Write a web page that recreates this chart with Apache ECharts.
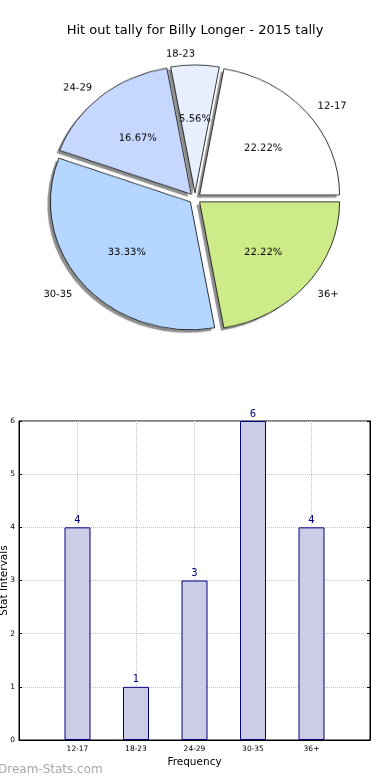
<!DOCTYPE html>
<html>
<head>
<meta charset="utf-8">
<script src="https://cdn.jsdelivr.net/npm/echarts@6/dist/echarts.min.js"></script>
<style>
  html, body { margin: 0; padding: 0; background: #fff; }
  #bar { position: absolute; left: 0; top: 0; width: 390px; height: 780px; }
  #pie { position: absolute; left: 0; top: 0; width: 390px; height: 430px;
         transform: scaleY(0.914); transform-origin: 0 0; }
</style>
</head>
<body>
<div id="bar"></div>
<div id="pie"></div>
<script>
// ---- data ----
var titleText = 'Hit out tally for Billy Longer - 2015 tally';
var categories = ['12-17', '18-23', '24-29', '30-35', '36+'];
var counts = [4, 1, 3, 6, 4];
var pieColors = ['#ffffff', '#e8f0ff', '#c6d8ff', '#b5d6ff', '#ceeb8a'];
var yTicks = [0, 1, 2, 3, 4, 5, 6];
var xAxisName = 'Frequency';
var yAxisName = 'Stat Intervals';
var watermark = 'Dream-Stats.com';

var FONT = 'DejaVu Sans';
var total = counts.reduce(function (a, b) { return a + b; }, 0);

// ---- pie ----
function pieItems(withColor) {
  return categories.map(function (c, i) {
    var d = { name: c, value: counts[i], selected: true };
    if (withColor) d.itemStyle = { color: pieColors[i] };
    return d;
  });
}

var WEDGE_CENTER = [195, 217];
var LABEL_CENTER = [195, 219.2];   // text baseline tweak (matplotlib centers text slightly lower)
var common = {
  type: 'pie', startAngle: 0.001, clockwise: false,
  selectedMode: 'multiple', selectedOffset: 6, avoidLabelOverlap: false,
  emphasis: { disabled: true }
};
var clear = { color: 'rgba(0,0,0,0)', borderWidth: 0 };

var pie = echarts.init(document.getElementById('pie'), null, { renderer: 'canvas' });
pie.setOption({
  animation: false,
  series: [
    // shadow layer
    Object.assign({}, common, {
      center: WEDGE_CENTER, radius: [0, 140], silent: true,
      itemStyle: { color: '#ffffff', borderWidth: 0,
        shadowColor: 'rgba(0,0,0,0.45)', shadowBlur: 1, shadowOffsetX: -3, shadowOffsetY: 3 },
      select: { itemStyle: { color: '#ffffff', borderWidth: 0 } },
      label: { show: false }, labelLine: { show: false },
      data: pieItems(false)
    }),
    // wedges
    Object.assign({}, common, {
      center: WEDGE_CENTER, radius: [0, 140],
      itemStyle: { borderColor: '#000', borderWidth: 0.8 },
      select: { itemStyle: { borderColor: '#000', borderWidth: 0.8 } },
      label: { show: false }, labelLine: { show: false },
      data: pieItems(true)
    }),
    // category labels
    Object.assign({}, common, {
      center: LABEL_CENTER, radius: [0, 140], silent: true,
      itemStyle: clear, select: { itemStyle: clear },
      label: {
        show: true, position: 'outside', formatter: '{b}',
        fontFamily: FONT, fontSize: 10, color: '#000', distanceToLabelLine: 0
      },
      labelLine: { show: false, length: 14, length2: 0 },
      data: pieItems(false)
    }),
    // percentage labels
    Object.assign({}, common, {
      center: LABEL_CENTER, radius: [20, 140], silent: true,
      itemStyle: clear, select: { itemStyle: clear },
      label: {
        show: true, position: 'inside',
        formatter: function (p) { return (p.value / total * 100).toFixed(2) + '%'; },
        fontFamily: FONT, fontSize: 10, color: '#000'
      },
      labelLine: { show: false },
      data: pieItems(false)
    })
  ]
});

// ---- bar ----
var xData = [''].concat(categories, ['']);
var barData = ['-'].concat(counts, ['-']);

var bar = echarts.init(document.getElementById('bar'), null, { renderer: 'canvas' });
bar.setOption({
  animation: false,
  backgroundColor: '#fff',
  title: {
    text: titleText, left: 'center', top: 19,
    textStyle: { fontFamily: FONT, fontSize: 13, fontWeight: 'normal', color: '#000' }
  },
  graphic: [{
    type: 'text', left: -2, top: 764,
    style: { text: watermark, fontFamily: FONT, fontSize: 12, fill: '#a8a8a8' }
  }],
  grid: { left: 19, right: 20, top: 421, bottom: 40, show: true,
          borderColor: '#000', borderWidth: 1, containLabel: false,
          outerBoundsMode: 'none' },
  xAxis: [{
    type: 'category', data: xData, boundaryGap: false,
    name: xAxisName, nameLocation: 'middle', nameGap: 17, nameMoveOverlap: false,
    nameTextStyle: { fontFamily: FONT, fontSize: 10.5, color: '#000' },
    axisLine: { lineStyle: { color: '#000' } },
    axisTick: { inside: true, length: 3, lineStyle: { color: '#000' } },
    axisLabel: { fontFamily: FONT, fontSize: 7.5, color: '#000', margin: 5, interval: 0 },
    splitLine: { show: true, lineStyle: { color: '#c4c4c4', type: 'dotted', width: 1 } }
  }],
  yAxis: [{
    type: 'value', min: 0, max: 6, interval: 1,
    name: yAxisName, nameLocation: 'middle', nameGap: 9, nameRotate: 90,
    nameMoveOverlap: false,
    nameTextStyle: { fontFamily: FONT, fontSize: 10.5, color: '#000' },
    axisLine: { show: true, lineStyle: { color: '#000' } },
    axisTick: { show: true, inside: true, length: 3, lineStyle: { color: '#000' } },
    axisLabel: { fontFamily: FONT, fontSize: 7.5, color: '#000', margin: 4,
                 formatter: function (v) { return yTicks.indexOf(v) >= 0 ? String(v) : ''; } },
    splitLine: { show: true, lineStyle: { color: '#c4c4c4', type: 'dotted', width: 1 } }
  }, {
    type: 'value', min: 0, max: 6, interval: 1, position: 'right',
    axisLine: { show: true, lineStyle: { color: '#000' } },
    axisTick: { show: true, inside: true, length: 3, lineStyle: { color: '#000' } },
    axisLabel: { show: false },
    splitLine: { show: false }
  }],
  series: [{
    type: 'bar', data: barData, barWidth: 26,
    itemStyle: { color: '#ccccE6', borderColor: '#000080', borderWidth: 1 },
    label: { show: true, position: 'top', distance: 2,
             fontFamily: FONT, fontSize: 10, color: '#000080' },
    emphasis: { disabled: true }
  }]
});
</script>
</body>
</html>
